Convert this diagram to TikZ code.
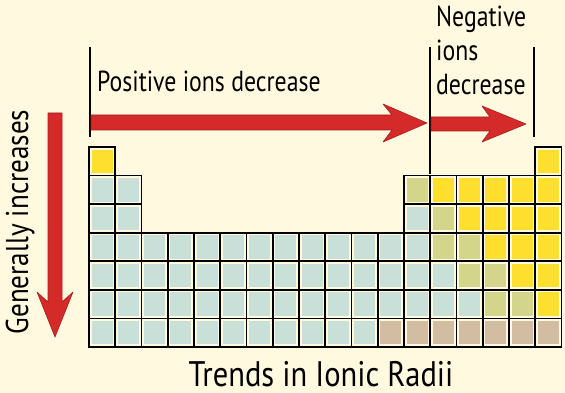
\documentclass[tikz,border=0pt]{standalone}
\usepackage{fontspec}
\setmainfont{PT Sans}
\newfontfamily\labelfont[FakeStretch=0.82]{PT Sans}
\newfontfamily\titlefont[FakeStretch=0.86]{PT Sans}
\definecolor{paper}{HTML}{FFFADF}
\definecolor{saltblue}{HTML}{C8E0D8}
\definecolor{halyellow}{HTML}{FFDF2E}
\definecolor{metalolive}{HTML}{D3D68A}
\definecolor{lanthtan}{HTML}{D2BDA3}
\definecolor{trendred}{HTML}{D42A2A}
\definecolor{trendedge}{HTML}{A81C1C}
\newcommand{\ioncell}[3]{% column, row, colour
  \filldraw[draw=black, line width=1.8pt, fill=paper] ({89+(#1-1)*26.25},{147+(#2-1)*28.57}) rectangle ++(26.25,28.57);
  \fill[#3] ({89+(#1-1)*26.25+2.6},{147+(#2-1)*28.57+2.6}) rectangle ++(21.05,23.37);
}
\tikzset{
  trend/.style={fill=trendred, draw=trendedge, line width=0.6pt, line join=round},
  caption/.style={font=\labelfont\fontsize{29}{34}\selectfont, inner sep=0pt}
}
\begin{document}
\begin{tikzpicture}[x=1pt, y=-1pt]
    \fill[paper] (0,0) rectangle (565,393);
    \useasboundingbox (0,0) rectangle (565,393);
    % the table
    \ioncell{1}{1}{halyellow}
    \ioncell{18}{1}{halyellow}
    \foreach \r in {2,3}
      \foreach \c in {1,2}
        \ioncell{\c}{\r}{saltblue};
    \foreach \r in {4,...,7}
      \foreach \c in {1,...,11}
        \ioncell{\c}{\r}{saltblue};
    \foreach \c/\r/\tint in {13/2/metalolive, 14/2/halyellow, 15/2/halyellow, 16/2/halyellow, 17/2/halyellow, 18/2/halyellow,
        13/3/saltblue, 14/3/metalolive, 15/3/halyellow, 16/3/halyellow, 17/3/halyellow, 18/3/halyellow,
        12/4/saltblue, 13/4/saltblue, 14/4/metalolive, 15/4/metalolive, 16/4/halyellow, 17/4/halyellow, 18/4/halyellow,
        12/5/saltblue, 13/5/saltblue, 14/5/saltblue, 15/5/metalolive, 16/5/metalolive, 17/5/halyellow, 18/5/halyellow,
        12/6/saltblue, 13/6/saltblue, 14/6/saltblue, 15/6/saltblue, 16/6/metalolive, 17/6/metalolive, 18/6/halyellow,
        12/7/lanthtan, 13/7/lanthtan, 14/7/lanthtan, 15/7/lanthtan, 16/7/lanthtan, 17/7/lanthtan, 18/7/lanthtan}
      \ioncell{\c}{\r}{\tint};
    % markers
    \draw[line width=1.6pt] (90,47) -- (90,137);
    \draw[line width=1.6pt] (430,47) -- (430,174);
    \draw[line width=1.6pt] (534,47) -- (534,137);
    % arrows
    \draw[trend] (91,115) -- (392,115) -- (383,104) -- (427,123) -- (383,142) -- (392,130) -- (91,130) -- cycle;
    \draw[trend] (431,117) -- (490,117) -- (482,106) -- (526,124) -- (482,142) -- (490,131) -- (431,131) -- cycle;
    \draw[trend] (48,113) -- (48,302) -- (37,292) -- (55,337) -- (73,292) -- (62,302) -- (62,113) -- cycle;
    % labels
    \node[caption, anchor=base west] (positive) at (97,92) {Positive ions decrease};
    \node[caption, anchor=base west, align=left] (negative) at (436,95) {Negative\\ions\\decrease};
    \node[caption, anchor=base, rotate=90, font=\titlefont\fontsize{31.5}{36}\selectfont] (down) at (28,222) {Generally increases};
    \node[caption, anchor=base, font=\titlefont\fontsize{35.5}{40}\selectfont] (title) at (321,386) {Trends in Ionic Radii};
\end{tikzpicture}
\end{document}
